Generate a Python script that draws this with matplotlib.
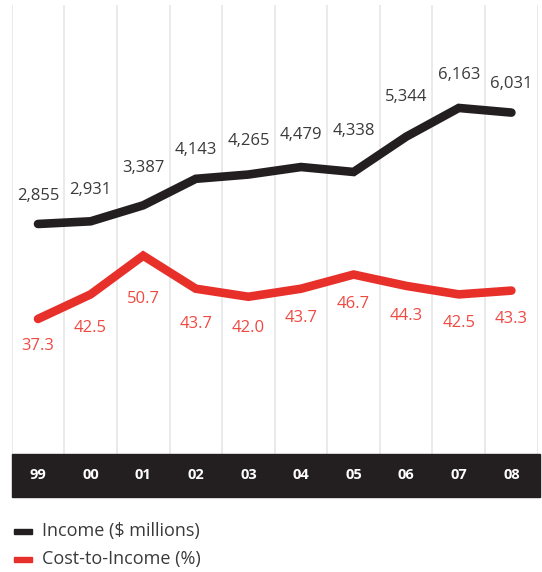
import matplotlib.pyplot as plt
from matplotlib.patches import Rectangle

plt.rcParams['font.family'] = ['Open Sans', 'DejaVu Sans']

years = ['99', '00', '01', '02', '03', '04', '05', '06', '07', '08']
income = [2855, 2931, 3387, 4143, 4265, 4479, 4338, 5344, 6163, 6031]
cost_to_income = [37.3, 42.5, 50.7, 43.7, 42.0, 43.7, 46.7, 44.3, 42.5, 43.3]

income_labels = ['2,855', '2,931', '3,387', '4,143', '4,265', '4,479', '4,338', '5,344', '6,163', '6,031']
cost_labels = ['37.3', '42.5', '50.7', '43.7', '42.0', '43.7', '46.7', '44.3', '42.5', '43.3']

# label offsets in pixels (above for income, below for cost)
inc_off = [28, 31, 37, 29, 34, 32, 41, 40, 33, 29]
cost_off = [27, 34, 43, 35, 31, 29, 29, 30, 29, 28]

dark = '#231f20'
red = '#e8302a'
red_txt = '#ef4a42'
grey_txt = '#3a3a3a'

fig = plt.figure(figsize=(5.42, 5.72), dpi=100)
ax = fig.add_axes([11.7 / 542, 75 / 572, 526 / 542, 492 / 572])
ax2 = ax.twinx()

x = list(range(len(years)))
ax.set_xlim(-0.5, 9.5)
ax.set_ylim(-0.42, 103.8)
ax2.set_ylim(-4930, 9099)

# vertical separators
for b in [i - 0.5 for i in range(11)]:
    ax.axvline(b, color='#e6e6e6', lw=1.2, zorder=0)

# dark band with year labels
band_top = 8.69
ax.add_patch(Rectangle((-0.5, -0.42), 10.05, band_top + 0.42, color=dark, zorder=3, clip_on=False))
for i, y in enumerate(years):
    ax.text(i, (band_top - 0.42) / 2, y, color='white', fontsize=10.5, fontweight='bold',
            ha='center', va='center', zorder=4)

ax.plot(x, cost_to_income, color=red, lw=6.2, solid_capstyle='round', solid_joinstyle='miter', zorder=2)
ax2.plot(x, income, color=dark, lw=6.2, solid_capstyle='round', solid_joinstyle='miter', zorder=2)

for i in x:
    ax.annotate(cost_labels[i], (i, cost_to_income[i]), xytext=(0, -cost_off[i] * 0.72),
                textcoords='offset points', ha='center', va='center', color=red_txt, fontsize=12)
    ax2.annotate(income_labels[i], (i, income[i]), xytext=(0, inc_off[i] * 0.72),
                 textcoords='offset points', ha='center', va='center', color=grey_txt, fontsize=12)

for a in (ax, ax2):
    a.set_xticks([])
    a.set_yticks([])
    for s in a.spines.values():
        s.set_visible(False)

# legend
fig.patches.append(Rectangle((14 / 542, 1 - 534 / 572), 18 / 542, 5 / 572, color=dark, transform=fig.transFigure))
fig.patches.append(Rectangle((14 / 542, 1 - 562 / 572), 18 / 542, 5 / 572, color=red, transform=fig.transFigure))
fig.text(42 / 542, 1 - 531 / 572, 'Income ($ millions)', fontsize=13, color=grey_txt, va='center')
fig.text(42 / 542, 1 - 559 / 572, 'Cost-to-Income (%)', fontsize=13, color=grey_txt, va='center')

fig.savefig('out.png', dpi=100)
